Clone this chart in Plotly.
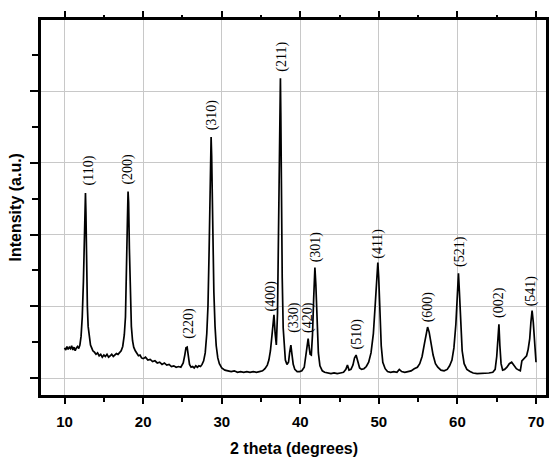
import plotly.graph_objects as go

# XRD pattern (2 theta in degrees, intensity in arbitrary units)
two_theta = [
    10.0, 10.15, 10.3, 10.45, 10.6, 10.75, 10.9, 11.05, 11.2, 11.35, 11.5, 11.65, 11.8, 11.95,
    12.1, 12.25, 12.4, 12.5, 12.58, 12.66, 12.72, 12.8, 12.9, 13.0, 13.15, 13.3, 13.45, 13.6,
    13.8, 14.0, 14.2, 14.4, 14.6, 14.8, 15.0, 15.2, 15.4, 15.6, 15.8, 16.0, 16.2, 16.4, 16.6,
    16.8, 17.0, 17.2, 17.4, 17.6, 17.75, 17.9, 18.0, 18.08, 18.15, 18.25, 18.35, 18.5, 18.65,
    18.8, 19.0, 19.2, 19.4, 19.6, 19.8, 20.0, 20.3, 20.6, 20.9, 21.2, 21.5, 21.8, 22.1, 22.4,
    22.7, 23.0, 23.3, 23.6, 23.9, 24.2, 24.5, 24.8, 25.1, 25.3, 25.45, 25.6, 25.75, 25.9, 26.1,
    26.3, 26.5, 26.7, 26.9, 27.1, 27.3, 27.5, 27.7, 27.9, 28.1, 28.25, 28.4, 28.5, 28.6, 28.65,
    28.72, 28.8, 28.9, 29.0, 29.15, 29.3, 29.5, 29.7, 30.0, 30.4, 30.8, 31.2, 31.6, 32.0, 32.4,
    32.8, 33.2, 33.6, 34.0, 34.4, 34.8, 35.2, 35.5, 35.8, 36.0, 36.2, 36.4, 36.55, 36.65, 36.8,
    36.95, 37.1, 37.22, 37.35, 37.42, 37.47, 37.52, 37.6, 37.7, 37.82, 37.95, 38.1, 38.3, 38.5,
    38.65, 38.8, 38.95, 39.1, 39.3, 39.6, 39.9, 40.2, 40.5, 40.7, 40.9, 41.0, 41.1, 41.25, 41.4,
    41.55, 41.7, 41.86, 41.98, 42.1, 42.3, 42.5, 42.8, 43.1, 43.5, 43.9, 44.3, 44.7, 45.1, 45.5,
    45.8, 46.0, 46.2, 46.45, 46.7, 46.9, 47.1, 47.3, 47.55, 47.8, 48.1, 48.4, 48.7, 49.0, 49.3,
    49.55, 49.75, 49.87, 49.98, 50.1, 50.3, 50.5, 50.8, 51.1, 51.5, 51.9, 52.3, 52.6, 52.9, 53.3,
    53.7, 54.1, 54.5, 54.9, 55.2, 55.5, 55.8, 56.0, 56.2, 56.4, 56.6, 56.9, 57.2, 57.5, 57.9,
    58.3, 58.7, 59.0, 59.3, 59.55, 59.8, 60.0, 60.13, 60.25, 60.4, 60.6, 60.85, 61.2, 61.6, 62.0,
    62.5, 63.0, 63.5, 64.0, 64.5, 64.8, 65.0, 65.15, 65.28, 65.4, 65.55, 65.75, 66.0, 66.3,
    66.6, 66.9, 67.2, 67.5, 67.8, 68.0, 68.2, 68.5, 68.8, 69.0, 69.2, 69.35, 69.5, 69.65, 69.8,
    70.0,
]
intensity = [
    0.42, 0.39, 0.44, 0.40, 0.43, 0.41, 0.45, 0.39, 0.43, 0.38, 0.42, 0.44, 0.41, 0.46,
    0.58, 0.85, 1.35, 1.95, 2.35, 2.58, 2.3, 1.6, 1.0, 0.72, 0.55, 0.46, 0.42, 0.38,
    0.36, 0.33, 0.35, 0.31, 0.33, 0.29, 0.32, 0.30, 0.33, 0.29, 0.31, 0.33, 0.30, 0.32, 0.34,
    0.33, 0.35, 0.38, 0.44, 0.6, 0.85, 1.45, 2.2, 2.6, 2.45, 1.8, 1.2, 0.72, 0.52,
    0.43, 0.38, 0.35, 0.31, 0.32, 0.28, 0.27, 0.29, 0.25, 0.26, 0.23, 0.24, 0.21, 0.22, 0.19,
    0.21, 0.18, 0.19, 0.16, 0.17, 0.15, 0.16, 0.15, 0.21, 0.32, 0.42, 0.43, 0.30, 0.19, 0.15,
    0.16, 0.14, 0.17, 0.15, 0.17, 0.16, 0.19, 0.24, 0.35, 0.62, 1.0, 1.8, 2.6, 3.2, 3.36,
    3.1, 2.5, 1.75, 1.2, 0.72, 0.45, 0.28, 0.2, 0.14, 0.11, 0.1, 0.09, 0.1, 0.08, 0.09,
    0.08, 0.09, 0.08, 0.09, 0.08, 0.09, 0.1, 0.13, 0.18, 0.25, 0.38, 0.6, 0.82, 0.88, 0.62,
    0.46, 0.9, 1.8, 3.0, 3.8, 4.18, 3.7, 2.5, 1.4, 0.7, 0.4, 0.25, 0.19, 0.22,
    0.36, 0.46, 0.32, 0.19, 0.12, 0.09, 0.09, 0.1, 0.15, 0.3, 0.5, 0.55, 0.45, 0.33, 0.32,
    0.6, 1.1, 1.54, 1.3, 0.8, 0.35, 0.17, 0.1, 0.08, 0.07, 0.06, 0.07, 0.06, 0.07, 0.08,
    0.12, 0.18, 0.11, 0.12, 0.18, 0.28, 0.32, 0.24, 0.14, 0.12, 0.13, 0.16, 0.22, 0.35, 0.62,
    1.05, 1.45, 1.61, 1.4, 0.95, 0.45, 0.22, 0.13, 0.09, 0.08, 0.09, 0.08, 0.12, 0.09, 0.08,
    0.09, 0.1, 0.13, 0.15, 0.2, 0.3, 0.48, 0.62, 0.71, 0.64, 0.5, 0.32, 0.2, 0.15, 0.11,
    0.1, 0.12, 0.17, 0.25, 0.42, 0.75, 1.15, 1.46, 1.2, 0.75, 0.38, 0.2, 0.12, 0.09, 0.07,
    0.06, 0.06, 0.06, 0.07, 0.08, 0.12, 0.3, 0.6, 0.75, 0.45, 0.2, 0.11, 0.12, 0.15,
    0.2, 0.22, 0.18, 0.13, 0.11, 0.1, 0.24, 0.28, 0.31, 0.4, 0.55, 0.78, 0.94, 0.78, 0.5,
    0.22,
]

# Miller index labels and where they sit (degrees, intensity units)
hkl_labels = ["(110)", "(200)", "(220)", "(310)", "(400)", "(211)", "(330)", "(420)",
              "(301)", "(510)", "(411)", "(600)", "(521)", "(002)", "(541)"]
label_x = [13.16, 18.1, 25.82, 28.69, 36.29, 37.66, 39.2, 41.01,
           41.94, 47.25, 49.87, 56.29, 60.34, 65.28, 69.37]
label_y = [2.90, 2.91, 0.77, 3.67, 1.14, 4.48, 0.84, 0.84,
           1.83, 0.61, 1.87, 0.99, 1.76, 1.06, 1.21]

x_ticks = [10, 20, 30, 40, 50, 60, 70]
y_ticks = [0, 1, 2, 3, 4]

x_range = [7.0, 71.27]
y_range = [-0.237, 4.993]

fig = go.Figure()
fig.add_trace(go.Scatter(x=two_theta, y=intensity, mode="lines",
                         line=dict(color="black", width=1.7), showlegend=False,
                         hoverinfo="skip"))
fig.add_trace(go.Scatter(x=[], y=[], xaxis="x2", showlegend=False))

for t, lx, ly in zip(hkl_labels, label_x, label_y):
    fig.add_annotation(x=lx, y=ly, text=t, showarrow=False, textangle=-90,
                       xanchor="center", yanchor="middle",
                       font=dict(family="Liberation Serif", size=14, color="black"))

fig.add_annotation(xref="paper", yref="paper", x=0.5, y=0, yshift=-53,
                   text="2 theta (degrees)", showarrow=False,
                   xanchor="center", yanchor="middle",
                   font=dict(family="Liberation Sans", size=16, color="black", weight="bold"))
fig.add_annotation(xref="paper", yref="paper", x=0, y=0.5, xshift=-26,
                   text="Intensity (a.u.)", showarrow=False, textangle=-90,
                   xanchor="center", yanchor="middle",
                   font=dict(family="Liberation Sans", size=16, color="black", weight="bold"))

fig.update_layout(
    width=560, height=460,
    margin=dict(l=41, r=11, t=20, b=65),
    plot_bgcolor="white", paper_bgcolor="white",
    xaxis=dict(range=x_range, tickvals=x_ticks, ticks="outside", ticklen=6, tickwidth=2,
               tickcolor="black", showgrid=True, gridcolor="#c8c8c8", gridwidth=1,
               showline=True, linecolor="black", linewidth=3, mirror=True, zeroline=False,
               ticklabelstandoff=5,
               tickfont=dict(family="Liberation Sans", size=15, color="black", weight="bold"),
               minor=dict(dtick=5, tick0=0, ticks="outside", ticklen=4, tickwidth=2,
                          tickcolor="black", showgrid=False)),
    xaxis2=dict(range=x_range, overlaying="x", side="top", tickvals=x_ticks,
                ticks="outside", ticklen=8, tickwidth=2, tickcolor="black",
                showticklabels=False, showgrid=False, zeroline=False, showline=False,
                minor=dict(dtick=5, tick0=0, ticks="outside", ticklen=4, tickwidth=2,
                           tickcolor="black", showgrid=False)),
    yaxis=dict(range=y_range, tickvals=y_ticks, ticks="outside", ticklen=8, tickwidth=2,
               tickcolor="black", showticklabels=False, showgrid=True, gridcolor="#c8c8c8",
               gridwidth=1, showline=True, linecolor="black", linewidth=3, mirror=True,
               zeroline=False,
               minor=dict(dtick=0.5, tick0=0, ticks="outside", ticklen=6, tickwidth=2,
                          tickcolor="black", showgrid=False)),
)

fig.write_html("out.html")
